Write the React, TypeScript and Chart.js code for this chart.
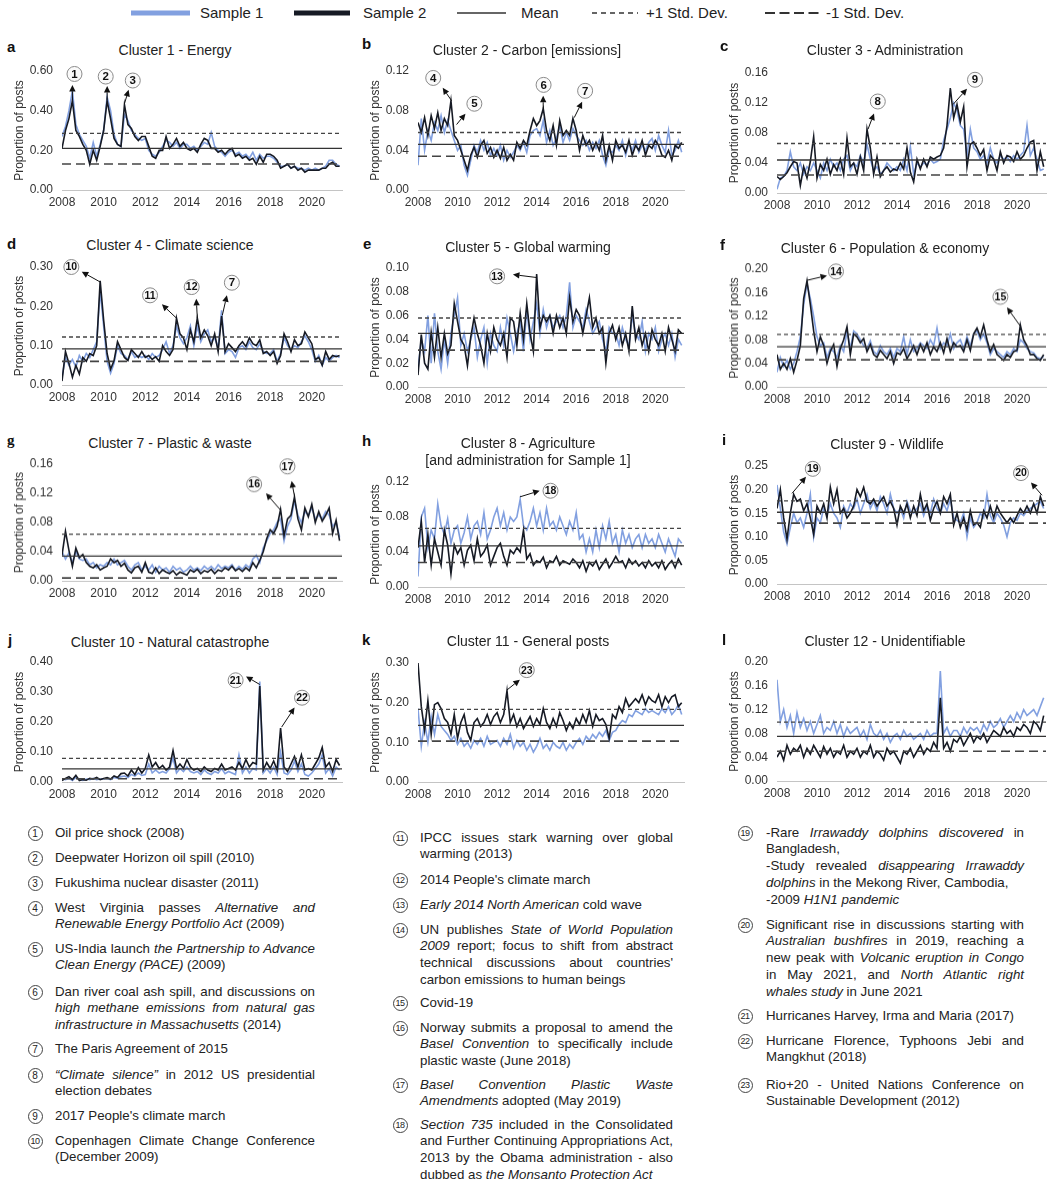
import React, { useEffect, useRef } from "react";
import { Chart, registerables } from "chart.js";

Chart.register(...registerables);

const FONT = '"Liberation Sans", Arial, Helvetica, sans-serif';
Chart.defaults.font.family = FONT;

const BLUE = "#82a0e0";
const DARK = "#161a24";

// bimonthly periods Jan 2008 .. May 2021
const PERIODS: string[] = [];
for (let yr = 2008; yr <= 2021; yr++) {
  for (let m = 1; m <= 11; m += 2) {
    if (yr === 2021 && m > 5) break;
    PERIODS.push(`${yr}-${String(m).padStart(2, "0")}`);
  }
}
const periodToYear = (p: string) => {
  const [y, m] = p.split("-").map(Number);
  return y + (m - 1) / 12;
};
const X_TICKS = [2008, 2010, 2012, 2014, 2016, 2018, 2020];
const X_MIN = 2008;
const X_MAX = 2021.45;

const LETTERS = ["a", "b", "c", "d", "e", "f", "g", "h", "i", "j", "k", "l"];
const TITLES: string[][] = [
  ["Cluster 1 - Energy"],
  ["Cluster 2 - Carbon [emissions]"],
  ["Cluster 3 - Administration"],
  ["Cluster 4 - Climate science"],
  ["Cluster 5 - Global warming"],
  ["Cluster 6 - Population & economy"],
  ["Cluster 7 - Plastic & waste"],
  ["Cluster 8 - Agriculture", "[and administration for Sample 1]"],
  ["Cluster 9 - Wildlife"],
  ["Cluster 10 - Natural catastrophe"],
  ["Cluster 11 - General posts"],
  ["Cluster 12 - Unidentifiable"],
];
const Y_MAX = [0.6, 0.12, 0.16, 0.3, 0.1, 0.2, 0.16, 0.12, 0.25, 0.4, 0.3, 0.2];
const Y_STEP = [0.2, 0.04, 0.04, 0.1, 0.02, 0.04, 0.04, 0.04, 0.05, 0.1, 0.1, 0.04];
const MEAN = [0.21, 0.046, 0.044, 0.092, 0.045, 0.068, 0.034, 0.047, 0.152, 0.044, 0.143, 0.075];
const PLUS_SD = [0.286, 0.058, 0.066, 0.122, 0.058, 0.089, 0.064, 0.067, 0.176, 0.079, 0.183, 0.099];
const MINUS_SD = [0.131, 0.034, 0.024, 0.06, 0.031, 0.046, 0.004, 0.028, 0.129, 0.011, 0.103, 0.05];

// ---- series (Sample 1 = blue, Sample 2 = black) ----
const A_S1 = [
  0.27, 0.32, 0.40, 0.50, 0.33, 0.28, 0.25, 0.22, 0.16, 0.24, 0.17, 0.23,
  0.30, 0.47, 0.40, 0.28, 0.23, 0.22, 0.38, 0.35, 0.30, 0.28, 0.26, 0.25,
  0.26, 0.20, 0.18, 0.17, 0.19, 0.22, 0.25, 0.24, 0.22, 0.24, 0.21, 0.23,
  0.23, 0.21, 0.22, 0.20, 0.22, 0.24, 0.23, 0.29, 0.22, 0.20, 0.19, 0.17,
  0.19, 0.20, 0.18, 0.19, 0.17, 0.18, 0.16, 0.19, 0.15, 0.18, 0.16, 0.17,
  0.17, 0.16, 0.14, 0.12, 0.12, 0.13, 0.11, 0.12, 0.11, 0.11, 0.10, 0.11,
  0.10, 0.11, 0.10, 0.11, 0.12, 0.15, 0.15, 0.13, 0.12,
];
const A_S2 = [
  0.21, 0.30, 0.36, 0.45, 0.30, 0.27, 0.23, 0.20, 0.13, 0.20, 0.15, 0.22,
  0.30, 0.45, 0.36, 0.26, 0.23, 0.22, 0.43, 0.33, 0.31, 0.27, 0.25, 0.27,
  0.27, 0.22, 0.17, 0.16, 0.20, 0.20, 0.27, 0.21, 0.23, 0.26, 0.22, 0.24,
  0.21, 0.20, 0.21, 0.19, 0.23, 0.26, 0.25, 0.21, 0.21, 0.19, 0.20, 0.18,
  0.20, 0.21, 0.17, 0.18, 0.16, 0.17, 0.15, 0.16, 0.13, 0.17, 0.14, 0.18,
  0.18, 0.17, 0.15, 0.11, 0.12, 0.13, 0.11, 0.12, 0.10, 0.11, 0.09, 0.10,
  0.10, 0.10, 0.10, 0.11, 0.11, 0.13, 0.14, 0.12, 0.12,
];
const B_S1 = [
  0.025, 0.072, 0.040, 0.060, 0.050, 0.068, 0.060, 0.075, 0.058, 0.070, 0.060, 0.050,
  0.040, 0.045, 0.025, 0.015, 0.030, 0.045, 0.038, 0.050, 0.040, 0.048, 0.035, 0.042,
  0.035, 0.045, 0.030, 0.040, 0.033, 0.038, 0.045, 0.040, 0.048, 0.038, 0.055, 0.060,
  0.062, 0.055, 0.070, 0.048, 0.060, 0.045, 0.052, 0.065, 0.048, 0.058, 0.050, 0.062,
  0.055, 0.050, 0.045, 0.050, 0.040, 0.048, 0.042, 0.050, 0.035, 0.025, 0.040, 0.038,
  0.045, 0.040, 0.050, 0.035, 0.048, 0.040, 0.050, 0.038, 0.045, 0.040, 0.048, 0.052,
  0.040, 0.055, 0.045, 0.038, 0.060, 0.035, 0.040, 0.050, 0.038,
];
const B_S2 = [
  0.068, 0.058, 0.073, 0.055, 0.075, 0.062, 0.078, 0.060, 0.072, 0.065, 0.090, 0.055,
  0.050, 0.040, 0.030, 0.020, 0.035, 0.043, 0.033, 0.045, 0.050, 0.037, 0.043, 0.033,
  0.040, 0.032, 0.043, 0.030, 0.036, 0.030, 0.048, 0.042, 0.050, 0.045, 0.060, 0.072,
  0.065, 0.070, 0.082, 0.060, 0.050, 0.065, 0.045, 0.070, 0.055, 0.060, 0.055, 0.072,
  0.060, 0.040, 0.055, 0.045, 0.050, 0.040, 0.048, 0.040, 0.055, 0.030, 0.045, 0.030,
  0.050, 0.042, 0.045, 0.038, 0.050, 0.035, 0.045, 0.040, 0.050, 0.035, 0.045, 0.042,
  0.050, 0.045, 0.035, 0.033, 0.040, 0.030, 0.045, 0.042, 0.048,
];
const C_S1 = [
  0.005, 0.020, 0.022, 0.030, 0.055, 0.035, 0.030, 0.040, 0.025, 0.035, 0.030, 0.040,
  0.030, 0.020, 0.040, 0.030, 0.045, 0.035, 0.040, 0.030, 0.045, 0.050, 0.030, 0.040,
  0.035, 0.050, 0.040, 0.065, 0.045, 0.030, 0.035, 0.025, 0.030, 0.040, 0.035, 0.030,
  0.035, 0.030, 0.045, 0.030, 0.062, 0.025, 0.040, 0.035, 0.040, 0.038, 0.045, 0.040,
  0.042, 0.045, 0.070, 0.085, 0.100, 0.120, 0.110, 0.090, 0.085, 0.050, 0.085, 0.060,
  0.055, 0.045, 0.050, 0.040, 0.060, 0.045, 0.040, 0.050, 0.045, 0.048, 0.042, 0.050,
  0.045, 0.050, 0.055, 0.090, 0.050, 0.060, 0.045, 0.030, 0.032,
];
const C_S2 = [
  0.022, 0.018, 0.022, 0.027, 0.035, 0.042, 0.040, 0.010, 0.035, 0.020, 0.042, 0.075,
  0.020, 0.038, 0.030, 0.045, 0.025, 0.038, 0.030, 0.045, 0.025, 0.073, 0.035, 0.040,
  0.025, 0.048, 0.030, 0.085, 0.060, 0.025, 0.048, 0.022, 0.030, 0.035, 0.028, 0.032,
  0.030, 0.040, 0.032, 0.060, 0.028, 0.015, 0.045, 0.032, 0.045, 0.035, 0.048, 0.045,
  0.048, 0.050, 0.060, 0.090, 0.140, 0.100, 0.118, 0.095, 0.115, 0.035, 0.065, 0.068,
  0.060, 0.050, 0.058, 0.030, 0.050, 0.045, 0.030, 0.055, 0.040, 0.050, 0.048, 0.042,
  0.055, 0.045, 0.050, 0.060, 0.068, 0.070, 0.030, 0.055, 0.035,
];
const D_S1 = [
  0.020, 0.070, 0.050, 0.065, 0.045, 0.075, 0.060, 0.080, 0.070, 0.090, 0.110, 0.240,
  0.150, 0.060, 0.030, 0.055, 0.100, 0.080, 0.075, 0.065, 0.085, 0.070, 0.075, 0.070,
  0.075, 0.065, 0.080, 0.070, 0.075, 0.090, 0.110, 0.080, 0.100, 0.150, 0.120, 0.105,
  0.120, 0.150, 0.100, 0.150, 0.110, 0.130, 0.140, 0.110, 0.120, 0.095, 0.190, 0.080,
  0.090, 0.085, 0.070, 0.095, 0.100, 0.090, 0.110, 0.095, 0.090, 0.105, 0.085, 0.080,
  0.080, 0.090, 0.060, 0.080, 0.120, 0.100, 0.090, 0.100, 0.095, 0.110, 0.125, 0.110,
  0.090, 0.060, 0.075, 0.050, 0.070, 0.060, 0.070, 0.075, 0.070,
];
const D_S2 = [
  0.010, 0.085, 0.055, 0.020, 0.050, 0.028, 0.070, 0.060, 0.080, 0.075, 0.100, 0.265,
  0.165, 0.080, 0.040, 0.062, 0.110, 0.090, 0.070, 0.062, 0.090, 0.080, 0.070, 0.085,
  0.070, 0.075, 0.065, 0.072, 0.060, 0.100, 0.085, 0.075, 0.090, 0.170, 0.130, 0.120,
  0.090, 0.140, 0.110, 0.170, 0.120, 0.140, 0.125, 0.100, 0.130, 0.085, 0.175, 0.085,
  0.105, 0.095, 0.085, 0.100, 0.110, 0.098, 0.120, 0.105, 0.100, 0.115, 0.080, 0.085,
  0.075, 0.085, 0.055, 0.075, 0.130, 0.110, 0.085, 0.115, 0.100, 0.105, 0.135, 0.120,
  0.105, 0.065, 0.070, 0.050, 0.085, 0.065, 0.075, 0.072, 0.075,
];
const E_S1 = [
  0.015, 0.040, 0.030, 0.060, 0.020, 0.062, 0.030, 0.015, 0.040, 0.020, 0.045, 0.060,
  0.075, 0.035, 0.045, 0.030, 0.040, 0.050, 0.025, 0.040, 0.050, 0.020, 0.045, 0.035,
  0.030, 0.050, 0.035, 0.058, 0.045, 0.030, 0.045, 0.055, 0.030, 0.065, 0.040, 0.055,
  0.070, 0.045, 0.065, 0.050, 0.060, 0.050, 0.055, 0.060, 0.050, 0.060, 0.088, 0.050,
  0.060, 0.055, 0.050, 0.065, 0.055, 0.045, 0.050, 0.055, 0.040, 0.030, 0.050, 0.045,
  0.045, 0.035, 0.050, 0.040, 0.035, 0.060, 0.045, 0.040, 0.055, 0.030, 0.045, 0.040,
  0.050, 0.030, 0.040, 0.045, 0.035, 0.045, 0.025, 0.040, 0.035,
];
const E_S2 = [
  0.010, 0.044, 0.020, 0.015, 0.046, 0.025, 0.050, 0.025, 0.045, 0.028, 0.035, 0.070,
  0.055, 0.040, 0.035, 0.018, 0.042, 0.058, 0.045, 0.035, 0.020, 0.045, 0.030, 0.050,
  0.040, 0.035, 0.045, 0.025, 0.058, 0.055, 0.035, 0.062, 0.040, 0.070, 0.045, 0.030,
  0.095, 0.050, 0.060, 0.055, 0.060, 0.045, 0.060, 0.050, 0.058, 0.045, 0.075, 0.055,
  0.065, 0.060, 0.045, 0.060, 0.075, 0.050, 0.058, 0.045, 0.050, 0.020, 0.045, 0.052,
  0.040, 0.050, 0.035, 0.045, 0.030, 0.068, 0.040, 0.050, 0.035, 0.045, 0.030, 0.048,
  0.040, 0.035, 0.045, 0.030, 0.050, 0.040, 0.030, 0.048, 0.045,
];
const F_S1 = [
  0.025, 0.050, 0.035, 0.045, 0.030, 0.040, 0.060, 0.085, 0.140, 0.175, 0.150, 0.120,
  0.085, 0.070, 0.075, 0.050, 0.065, 0.060, 0.050, 0.070, 0.060, 0.095, 0.065, 0.095,
  0.090, 0.080, 0.070, 0.065, 0.078, 0.060, 0.055, 0.070, 0.060, 0.055, 0.065, 0.050,
  0.065, 0.060, 0.085, 0.055, 0.080, 0.060, 0.065, 0.075, 0.070, 0.065, 0.080, 0.070,
  0.100, 0.065, 0.075, 0.070, 0.090, 0.065, 0.075, 0.080, 0.065, 0.085, 0.070, 0.090,
  0.095, 0.080, 0.090, 0.075, 0.055, 0.065, 0.060, 0.055, 0.050, 0.060, 0.055, 0.065,
  0.060, 0.080, 0.075, 0.065, 0.060, 0.058, 0.050, 0.048, 0.052,
];
const F_S2 = [
  0.055, 0.030, 0.040, 0.030, 0.048, 0.025, 0.045, 0.070, 0.150, 0.180, 0.140, 0.095,
  0.060, 0.085, 0.070, 0.040, 0.060, 0.072, 0.035, 0.065, 0.080, 0.102, 0.055, 0.090,
  0.085, 0.075, 0.082, 0.060, 0.072, 0.055, 0.050, 0.062, 0.055, 0.048, 0.060, 0.040,
  0.058, 0.055, 0.065, 0.048, 0.058, 0.070, 0.055, 0.072, 0.060, 0.075, 0.055, 0.068,
  0.060, 0.075, 0.058, 0.082, 0.060, 0.075, 0.068, 0.070, 0.060, 0.080, 0.062, 0.090,
  0.100, 0.085, 0.105, 0.080, 0.060, 0.072, 0.055, 0.050, 0.045, 0.055, 0.050, 0.060,
  0.062, 0.105, 0.080, 0.070, 0.055, 0.055, 0.048, 0.045, 0.055,
];
const G_S1 = [
  0.040, 0.030, 0.038, 0.025, 0.040, 0.030, 0.028, 0.030, 0.022, 0.025, 0.018, 0.022,
  0.020, 0.025, 0.022, 0.030, 0.022, 0.025, 0.028, 0.020, 0.015, 0.022, 0.025, 0.015,
  0.020, 0.015, 0.022, 0.012, 0.020, 0.015, 0.018, 0.012, 0.020, 0.015, 0.018, 0.012,
  0.015, 0.020, 0.015, 0.018, 0.014, 0.020, 0.016, 0.020, 0.015, 0.022, 0.017, 0.020,
  0.018, 0.022, 0.015, 0.020, 0.016, 0.022, 0.018, 0.030, 0.035, 0.025, 0.045, 0.055,
  0.065, 0.070, 0.080, 0.085, 0.055, 0.075, 0.085, 0.110, 0.090, 0.080, 0.095, 0.090,
  0.100, 0.085, 0.090, 0.085, 0.095, 0.090, 0.075, 0.080, 0.060,
];
const G_S2 = [
  0.035, 0.068, 0.042, 0.020, 0.045, 0.032, 0.036, 0.025, 0.020, 0.018, 0.022, 0.015,
  0.018, 0.020, 0.030, 0.025, 0.028, 0.020, 0.024, 0.015, 0.011, 0.018, 0.020, 0.012,
  0.025, 0.012, 0.010, 0.018, 0.010, 0.015, 0.012, 0.010, 0.014, 0.008, 0.012, 0.010,
  0.008, 0.015, 0.012, 0.016, 0.010, 0.014, 0.012, 0.016, 0.010, 0.015, 0.013, 0.018,
  0.015, 0.020, 0.014, 0.017, 0.013, 0.018, 0.014, 0.025, 0.018, 0.028, 0.040, 0.058,
  0.070, 0.065, 0.075, 0.098, 0.062, 0.085, 0.090, 0.115, 0.085, 0.070, 0.100, 0.088,
  0.105, 0.080, 0.095, 0.082, 0.090, 0.100, 0.065, 0.083, 0.055,
];
const H_S1 = [
  0.012, 0.080, 0.090, 0.045, 0.065, 0.055, 0.095, 0.070, 0.060, 0.078, 0.050, 0.065,
  0.070, 0.050, 0.062, 0.080, 0.055, 0.070, 0.075, 0.060, 0.085, 0.055, 0.065, 0.080,
  0.090, 0.070, 0.085, 0.065, 0.080, 0.075, 0.080, 0.100, 0.070, 0.065, 0.075, 0.090,
  0.070, 0.085, 0.065, 0.090, 0.070, 0.075, 0.065, 0.080, 0.070, 0.060, 0.075, 0.065,
  0.085, 0.055, 0.060, 0.040, 0.055, 0.040, 0.065, 0.045, 0.070, 0.055, 0.075, 0.050,
  0.060, 0.040, 0.065, 0.050, 0.060, 0.045, 0.055, 0.060, 0.045, 0.060, 0.050, 0.055,
  0.045, 0.060, 0.050, 0.040, 0.055, 0.045, 0.035, 0.055, 0.050,
];
const H_S2 = [
  0.045, 0.075, 0.028, 0.060, 0.025, 0.055, 0.040, 0.025, 0.065, 0.048, 0.015, 0.048,
  0.038, 0.045, 0.025, 0.042, 0.048, 0.030, 0.055, 0.035, 0.040, 0.048, 0.025, 0.035,
  0.045, 0.050, 0.035, 0.025, 0.042, 0.038, 0.045, 0.040, 0.065, 0.032, 0.038, 0.025,
  0.030, 0.028, 0.034, 0.022, 0.030, 0.028, 0.035, 0.025, 0.030, 0.028, 0.026, 0.032,
  0.028, 0.022, 0.030, 0.018, 0.028, 0.024, 0.030, 0.020, 0.026, 0.032, 0.022, 0.028,
  0.035, 0.028, 0.030, 0.022, 0.032, 0.026, 0.030, 0.024, 0.028, 0.022, 0.030, 0.024,
  0.028, 0.022, 0.030, 0.020, 0.026, 0.030, 0.022, 0.032, 0.025,
];
const I_S1 = [
  0.210, 0.160, 0.110, 0.085, 0.120, 0.150, 0.130, 0.140, 0.120, 0.150, 0.190, 0.100,
  0.140, 0.130, 0.160, 0.145, 0.170, 0.150, 0.140, 0.120, 0.165, 0.150, 0.170, 0.160,
  0.180, 0.150, 0.170, 0.190, 0.160, 0.175, 0.155, 0.185, 0.170, 0.150, 0.190, 0.160,
  0.150, 0.160, 0.140, 0.175, 0.155, 0.150, 0.160, 0.170, 0.145, 0.165, 0.150, 0.180,
  0.160, 0.150, 0.170, 0.155, 0.180, 0.140, 0.135, 0.130, 0.150, 0.100, 0.140, 0.120,
  0.130, 0.150, 0.140, 0.190, 0.145, 0.130, 0.150, 0.140, 0.125, 0.100, 0.130, 0.140,
  0.135, 0.150, 0.145, 0.155, 0.160, 0.165, 0.170, 0.175, 0.160,
];
const I_S2 = [
  0.160, 0.200, 0.140, 0.095, 0.150, 0.190, 0.175, 0.180, 0.155, 0.170, 0.140, 0.105,
  0.165, 0.150, 0.170, 0.140, 0.205, 0.170, 0.200, 0.150, 0.160, 0.140, 0.150, 0.165,
  0.200, 0.185, 0.205, 0.175, 0.170, 0.180, 0.165, 0.175, 0.185, 0.165, 0.175, 0.160,
  0.125, 0.165, 0.150, 0.170, 0.140, 0.165, 0.145, 0.190, 0.155, 0.170, 0.135, 0.160,
  0.175, 0.150, 0.185, 0.170, 0.190, 0.125, 0.150, 0.120, 0.140, 0.115, 0.155, 0.125,
  0.130, 0.120, 0.155, 0.140, 0.165, 0.140, 0.165, 0.150, 0.140, 0.130, 0.140, 0.130,
  0.145, 0.160, 0.150, 0.165, 0.150, 0.170, 0.150, 0.185, 0.165,
];
const J_S1 = [
  0.010, 0.008, 0.012, 0.005, 0.015, 0.008, 0.005, 0.010, 0.008, 0.012, 0.008, 0.010,
  0.010, 0.012, 0.008, 0.015, 0.012, 0.018, 0.020, 0.015, 0.025, 0.020, 0.030, 0.022,
  0.025, 0.060, 0.030, 0.040, 0.030, 0.035, 0.030, 0.045, 0.080, 0.030, 0.045, 0.035,
  0.050, 0.035, 0.030, 0.035, 0.025, 0.040, 0.030, 0.025, 0.035, 0.030, 0.045, 0.028,
  0.035, 0.030, 0.025, 0.090, 0.030, 0.050, 0.030, 0.045, 0.040, 0.335, 0.030, 0.045,
  0.030, 0.050, 0.025, 0.100, 0.030, 0.025, 0.040, 0.070, 0.035, 0.060, 0.025, 0.020,
  0.030, 0.045, 0.060, 0.090, 0.030, 0.045, 0.020, 0.050, 0.040,
];
const J_S2 = [
  0.005, 0.012, 0.018, 0.008, 0.022, 0.005, 0.008, 0.006, 0.012, 0.010, 0.015, 0.008,
  0.012, 0.015, 0.010, 0.020, 0.015, 0.028, 0.030, 0.020, 0.040, 0.025, 0.048, 0.030,
  0.045, 0.090, 0.050, 0.065, 0.045, 0.055, 0.040, 0.050, 0.105, 0.045, 0.060, 0.045,
  0.075, 0.050, 0.040, 0.045, 0.035, 0.050, 0.040, 0.035, 0.045, 0.040, 0.060, 0.040,
  0.045, 0.050, 0.040, 0.065, 0.045, 0.075, 0.050, 0.065, 0.060, 0.320, 0.040, 0.065,
  0.045, 0.070, 0.040, 0.180, 0.050, 0.035, 0.060, 0.085, 0.050, 0.090, 0.040, 0.045,
  0.040, 0.060, 0.080, 0.115, 0.050, 0.065, 0.035, 0.075, 0.055,
];
const K_S1 = [
  0.185, 0.090, 0.150, 0.100, 0.165, 0.120, 0.170, 0.140, 0.130, 0.120, 0.105, 0.115,
  0.095, 0.110, 0.090, 0.100, 0.085, 0.105, 0.095, 0.110, 0.090, 0.115, 0.095, 0.100,
  0.105, 0.090, 0.110, 0.095, 0.120, 0.085, 0.105, 0.090, 0.100, 0.080, 0.095, 0.075,
  0.090, 0.110, 0.085, 0.095, 0.080, 0.100, 0.090, 0.085, 0.100, 0.080, 0.095, 0.085,
  0.100, 0.110, 0.095, 0.115, 0.105, 0.120, 0.110, 0.125, 0.115, 0.130, 0.105, 0.125,
  0.130, 0.145, 0.155, 0.150, 0.170, 0.165, 0.180, 0.175, 0.170, 0.185, 0.175, 0.180,
  0.175, 0.170, 0.185, 0.175, 0.190, 0.170, 0.180, 0.195, 0.170,
];
const K_S2 = [
  0.300, 0.190, 0.130, 0.205, 0.120, 0.195, 0.200, 0.185, 0.160, 0.150, 0.120, 0.170,
  0.110, 0.150, 0.170, 0.125, 0.105, 0.150, 0.160, 0.140, 0.150, 0.170, 0.145, 0.165,
  0.175, 0.150, 0.170, 0.230, 0.150, 0.170, 0.140, 0.160, 0.135, 0.150, 0.165, 0.140,
  0.160, 0.145, 0.185, 0.150, 0.135, 0.160, 0.140, 0.175, 0.155, 0.130, 0.150, 0.135,
  0.160, 0.145, 0.170, 0.150, 0.180, 0.140, 0.170, 0.155, 0.160, 0.145, 0.110, 0.170,
  0.160, 0.190, 0.175, 0.210, 0.190, 0.200, 0.210, 0.200, 0.220, 0.195, 0.215, 0.205,
  0.200, 0.220, 0.190, 0.215, 0.200, 0.215, 0.220, 0.190, 0.200,
];
const L_S1 = [
  0.170, 0.100, 0.120, 0.090, 0.110, 0.080, 0.115, 0.090, 0.105, 0.085, 0.100, 0.080,
  0.095, 0.110, 0.080, 0.090, 0.085, 0.100, 0.080, 0.095, 0.075, 0.090, 0.080, 0.085,
  0.090, 0.075, 0.085, 0.070, 0.095, 0.080, 0.075, 0.085, 0.070, 0.080, 0.065, 0.075,
  0.080, 0.070, 0.085, 0.075, 0.080, 0.070, 0.075, 0.080, 0.070, 0.085, 0.075, 0.080,
  0.080, 0.185, 0.080, 0.090, 0.075, 0.085, 0.085, 0.075, 0.090, 0.080, 0.090, 0.085,
  0.090, 0.080, 0.095, 0.085, 0.100, 0.090, 0.095, 0.105, 0.090, 0.100, 0.110, 0.100,
  0.115, 0.105, 0.120, 0.110, 0.115, 0.120, 0.110, 0.125, 0.140,
];
const L_S2 = [
  0.040, 0.050, 0.035, 0.060, 0.045, 0.055, 0.050, 0.060, 0.040, 0.055, 0.045, 0.060,
  0.050, 0.040, 0.058, 0.045, 0.055, 0.040, 0.050, 0.045, 0.060, 0.040, 0.050, 0.045,
  0.055, 0.040, 0.050, 0.045, 0.060, 0.040, 0.050, 0.045, 0.035, 0.055, 0.045, 0.050,
  0.040, 0.030, 0.050, 0.045, 0.055, 0.040, 0.050, 0.060, 0.045, 0.055, 0.050, 0.065,
  0.055, 0.140, 0.055, 0.065, 0.050, 0.070, 0.065, 0.075, 0.060, 0.070, 0.080, 0.065,
  0.075, 0.070, 0.080, 0.065, 0.075, 0.085, 0.080, 0.075, 0.090, 0.080, 0.085, 0.075,
  0.090, 0.085, 0.095, 0.090, 0.080, 0.100, 0.095, 0.085, 0.110,
];
const SAMPLE1 = [A_S1, B_S1, C_S1, D_S1, E_S1, F_S1, G_S1, H_S1, I_S1, J_S1, K_S1, L_S1];
const SAMPLE2 = [A_S2, B_S2, C_S2, D_S2, E_S2, F_S2, G_S2, H_S2, I_S2, J_S2, K_S2, L_S2];

// annotations: circle centre (cx,cy) and arrow from (sx,sy) to (ex,ey), data units
type Note = { n: number; cx: number; cy: number; sx: number; sy: number; ex: number; ey: number };
const NOTES: Note[][] = [
  [
    { n: 1, cx: 2008.6, cy: 0.585, sx: 2008.5, sy: 0.455, ex: 2008.5, ey: 0.53 },
    { n: 2, cx: 2010.1, cy: 0.572, sx: 2010.17, sy: 0.455, ex: 2010.17, ey: 0.525 },
    { n: 3, cx: 2011.4, cy: 0.552, sx: 2011.0, sy: 0.435, ex: 2011.2, ey: 0.505 },
  ],
  [
    { n: 4, cx: 2008.77, cy: 0.113, sx: 2009.7, sy: 0.09, ex: 2009.25, ey: 0.103 },
    { n: 5, cx: 2010.85, cy: 0.087, sx: 2009.95, sy: 0.066, ex: 2010.4, ey: 0.077 },
    { n: 6, cx: 2014.35, cy: 0.106, sx: 2014.33, sy: 0.082, ex: 2014.33, ey: 0.095 },
    { n: 7, cx: 2016.45, cy: 0.1, sx: 2015.9, sy: 0.073, ex: 2016.3, ey: 0.089 },
  ],
  [
    { n: 8, cx: 2013.04, cy: 0.122, sx: 2012.55, sy: 0.085, ex: 2012.85, ey: 0.106 },
    { n: 9, cx: 2017.9, cy: 0.151, sx: 2016.8, sy: 0.118, ex: 2017.5, ey: 0.139 },
  ],
  [
    { n: 10, cx: 2008.45, cy: 0.3, sx: 2009.83, sy: 0.262, ex: 2008.95, ey: 0.288 },
    { n: 11, cx: 2012.23, cy: 0.228, sx: 2013.5, sy: 0.17, ex: 2012.8, ey: 0.205 },
    { n: 12, cx: 2014.23, cy: 0.249, sx: 2014.5, sy: 0.17, ex: 2014.45, ey: 0.219 },
    { n: 7, cx: 2016.16, cy: 0.26, sx: 2015.7, sy: 0.177, ex: 2015.92, ey: 0.228 },
  ],
  [{ n: 13, cx: 2012.0, cy: 0.093, sx: 2014.0, sy: 0.092, ex: 2012.8, ey: 0.0945 }],
  [
    { n: 14, cx: 2010.95, cy: 0.196, sx: 2009.5, sy: 0.181, ex: 2010.5, ey: 0.189 },
    { n: 15, cx: 2019.17, cy: 0.153, sx: 2020.15, sy: 0.104, ex: 2019.5, ey: 0.135 },
  ],
  [
    { n: 16, cx: 2017.23, cy: 0.1325, sx: 2018.5, sy: 0.097, ex: 2017.8, ey: 0.12 },
    { n: 17, cx: 2018.83, cy: 0.157, sx: 2019.17, sy: 0.1155, ex: 2019.03, ey: 0.137 },
  ],
  [{ n: 18, cx: 2014.7, cy: 0.11, sx: 2013.15, sy: 0.103, ex: 2014.15, ey: 0.11 }],
  [
    { n: 19, cx: 2009.79, cy: 0.244, sx: 2008.75, sy: 0.192, ex: 2009.45, ey: 0.227 },
    { n: 20, cx: 2020.2, cy: 0.235, sx: 2021.25, sy: 0.188, ex: 2020.7, ey: 0.215 },
  ],
  [
    { n: 21, cx: 2016.34, cy: 0.339, sx: 2017.5, sy: 0.325, ex: 2016.84, ey: 0.352 },
    { n: 22, cx: 2019.53, cy: 0.281, sx: 2018.55, sy: 0.183, ex: 2019.17, ey: 0.248 },
  ],
  [{ n: 23, cx: 2013.5, cy: 0.282, sx: 2012.5, sy: 0.232, ex: 2013.15, ey: 0.258 }],
  [],
];

// footnotes (*...* = italic, | = line break)
const FOOTNOTES: { n: number; col: number; y: number; text: string }[] = [
  { n: 1, col: 0, y: 833, text: "Oil price shock (2008)" },
  { n: 2, col: 0, y: 858, text: "Deepwater Horizon oil spill (2010)" },
  { n: 3, col: 0, y: 883, text: "Fukushima nuclear disaster (2011)" },
  { n: 4, col: 0, y: 908, text: "West Virginia passes *Alternative and Renewable Energy Portfolio Act* (2009)" },
  { n: 5, col: 0, y: 949, text: "US-India launch *the Partnership to Advance Clean Energy (PACE)* (2009)" },
  { n: 6, col: 0, y: 992, text: "Dan river coal ash spill, and discussions on *high methane emissions from natural gas infrastructure in Massachusetts* (2014)" },
  { n: 7, col: 0, y: 1049, text: "The Paris Agreement of 2015" },
  { n: 8, col: 0, y: 1075, text: "*\u201cClimate silence\u201d* in 2012 US presidential election debates" },
  { n: 9, col: 0, y: 1116, text: "2017 People's climate march" },
  { n: 10, col: 0, y: 1141, text: "Copenhagen Climate Change Conference (December 2009)" },
  { n: 11, col: 1, y: 838, text: "IPCC issues stark warning over global warming (2013)" },
  { n: 12, col: 1, y: 880, text: "2014 People's climate march" },
  { n: 13, col: 1, y: 905, text: "*Early 2014 North American* cold wave" },
  { n: 14, col: 1, y: 930, text: "UN publishes *State of World Population 2009* report; focus to shift from abstract technical discussions about countries' carbon emissions to human beings" },
  { n: 15, col: 1, y: 1003, text: "Covid-19" },
  { n: 16, col: 1, y: 1028, text: "Norway submits a proposal to amend the *Basel Convention* to specifically include plastic waste (June 2018)" },
  { n: 17, col: 1, y: 1085, text: "*Basel Convention Plastic Waste Amendments* adopted (May 2019)" },
  { n: 18, col: 1, y: 1125, text: "*Section 735* included in the Consolidated and Further Continuing Appropriations Act, 2013 by the Obama administration - also dubbed as *the Monsanto Protection Act*" },
  { n: 19, col: 2, y: 833, text: "-Rare *Irrawaddy dolphins discovered* in Bangladesh,|-Study revealed *disappearing Irrawaddy dolphins* in the Mekong River, Cambodia,|-2009 *H1N1 pandemic*" },
  { n: 20, col: 2, y: 925, text: "Significant rise in discussions starting with *Australian bushfires* in 2019, reaching a new peak with *Volcanic eruption in Congo* in May 2021, and *North Atlantic right whales study* in June 2021" },
  { n: 21, col: 2, y: 1016, text: "Hurricanes Harvey, Irma and Maria (2017)" },
  { n: 22, col: 2, y: 1041, text: "Hurricane Florence, Typhoons Jebi and Mangkhut (2018)" },
  { n: 23, col: 2, y: 1085, text: "Rio+20 - United Nations Conference on Sustainable Development (2012)" },
];

// ---- layout (pixels) ----
const COL_AXIS = [62, 418, 777];
const COL_RIGHT = [342, 684, 1046];
const PLOT_TOP = [71, 71, 72.7, 266.7, 267.7, 269.3, 464.3, 481.7, 465.7, 661.7, 662.7, 661.5];
const PLOT_BOTTOM = [190, 190, 192.7, 385, 387, 386.7, 580.7, 587, 584.3, 781.7, 782, 780.5];
const TITLE_POS = [
  [175, 50], [527, 50], [885, 50],
  [170, 245], [528, 247], [885, 248],
  [170, 443], [528, 443], [887, 444],
  [170, 642], [528, 641], [885, 641],
];
const LETTER_POS = [
  [7, 47], [362, 44], [720, 46],
  [7, 244], [363, 244], [720, 245],
  [7, 440], [362, 441], [722, 440],
  [8, 640], [362, 640], [722, 640],
];
const NOTE_COL_CIRCLE = [35, 400, 745];
const NOTE_COL_TEXT = [55, 420, 766];
const NOTE_COL_WIDTH = [260, 253, 258];

const toPts = (arr: number[]) => PERIODS.map((p, i) => ({ x: periodToYear(p), y: arr[i] }));
const hline = (v: number) => [
  { x: X_MIN, y: v },
  { x: X_MAX, y: v },
];

function makeNotesPlugin(notes: Note[]) {
  return {
    id: "notes",
    afterDatasetsDraw(chart: any) {
      const { ctx, scales } = chart;
      const xs = scales.x;
      const ys = scales.y;
      ctx.save();
      for (const a of notes) {
        const sx = xs.getPixelForValue(a.sx);
        const sy = ys.getPixelForValue(a.sy);
        const ex = xs.getPixelForValue(a.ex);
        const ey = ys.getPixelForValue(a.ey);
        const ang = Math.atan2(ey - sy, ex - sx);
        const hl = 6.5;
        const hw = 3.2;
        const bx = ex - hl * Math.cos(ang);
        const by = ey - hl * Math.sin(ang);
        ctx.strokeStyle = "#111";
        ctx.fillStyle = "#111";
        ctx.lineWidth = 1;
        ctx.beginPath();
        ctx.moveTo(sx, sy);
        ctx.lineTo(bx, by);
        ctx.stroke();
        ctx.beginPath();
        ctx.moveTo(ex, ey);
        ctx.lineTo(bx + hw * Math.sin(ang), by - hw * Math.cos(ang));
        ctx.lineTo(bx - hw * Math.sin(ang), by + hw * Math.cos(ang));
        ctx.closePath();
        ctx.fill();
        const cx = xs.getPixelForValue(a.cx);
        const cy = ys.getPixelForValue(a.cy);
        ctx.beginPath();
        ctx.arc(cx, cy, 7.5, 0, Math.PI * 2);
        ctx.fillStyle = "#fafafa";
        ctx.fill();
        ctx.strokeStyle = "#8a8a8a";
        ctx.lineWidth = 1;
        ctx.stroke();
        ctx.fillStyle = "#111";
        ctx.font = `bold ${a.n >= 10 ? 10.5 : 11.5}px ${FONT}`;
        ctx.textAlign = "center";
        ctx.textBaseline = "middle";
        ctx.fillText(String(a.n), cx, cy + 0.5);
      }
      ctx.restore();
    },
  };
}

function Panel({ i }: { i: number }) {
  const ref = useRef<HTMLCanvasElement>(null);
  const col = i % 3;
  const axisX = COL_AXIS[col];
  const left = axisX - 50;
  const width = COL_RIGHT[col] - axisX + 54;
  const top = PLOT_TOP[i] - 20;
  const height = PLOT_BOTTOM[i] - PLOT_TOP[i] + 45;

  useEffect(() => {
    const chart = new Chart(ref.current as HTMLCanvasElement, {
      type: "line",
      data: {
        datasets: [
          { label: "Sample 1", data: toPts(SAMPLE1[i]), borderColor: BLUE, borderWidth: 1.6, pointRadius: 0, tension: 0, order: 5 },
          { label: "Sample 2", data: toPts(SAMPLE2[i]), borderColor: DARK, borderWidth: 1.6, pointRadius: 0, tension: 0, order: 4 },
          { label: "Mean", data: hline(MEAN[i]), borderColor: "#333", borderWidth: 1.3, pointRadius: 0, order: 3 },
          { label: "+1 Std. Dev.", data: hline(PLUS_SD[i]), borderColor: "#444", borderWidth: 1.3, borderDash: [4, 3], pointRadius: 0, order: 2 },
          { label: "-1 Std. Dev.", data: hline(MINUS_SD[i]), borderColor: "#444", borderWidth: 1.6, borderDash: [9, 5], pointRadius: 0, order: 1 },
        ],
      },
      options: {
        animation: false,
        responsive: false,
        maintainAspectRatio: false,
        layout: { padding: { top: 20, right: 4, left: 0, bottom: 0 } },
        plugins: { legend: { display: false }, tooltip: { enabled: false } },
        scales: {
          x: {
            type: "linear",
            min: X_MIN,
            max: X_MAX,
            afterFit: (s: any) => {
              s.height = 25;
            },
            ticks: {
              stepSize: 2,
              includeBounds: false,
              autoSkip: false,
              maxRotation: 0,
              padding: 5,
              color: "#333",
              font: { size: 12, family: FONT },
              callback: (v: any) => (X_TICKS.includes(Number(v)) ? String(v) : ""),
            },
            grid: { display: false, drawTicks: false },
            border: { display: true, color: "#c4c4c4", width: 1 },
          },
          y: {
            min: 0,
            max: Y_MAX[i],
            afterFit: (s: any) => {
              s.width = 50;
            },
            ticks: {
              stepSize: Y_STEP[i],
              padding: 9,
              color: "#333",
              font: { size: 12, family: FONT },
              callback: (v: any) => Number(v).toFixed(2),
            },
            grid: { display: false, drawTicks: false },
            border: { display: false },
            title: {
              display: true,
              text: "Proportion of posts",
              color: "#333",
              font: { size: 12, family: FONT },
              padding: { top: 0, bottom: 0 },
            },
          },
        },
      } as any,
      plugins: [makeNotesPlugin(NOTES[i])],
    });
    return () => chart.destroy();
  }, [i]);

  const [tx, ty] = TITLE_POS[i];
  const [lx, ly] = LETTER_POS[i];
  const lines = TITLES[i];
  return (
    <>
      <div
        style={{
          position: "absolute",
          left: lx,
          top: ly - 9,
          lineHeight: "18px",
          fontSize: 15,
          fontWeight: "bold",
          fontFamily: LETTERS[i] === "g" ? '"Liberation Serif", serif' : FONT,
          color: "#111",
        }}
      >
        {LETTERS[i]}
      </div>
      <div
        style={{
          position: "absolute",
          left: tx - 200,
          width: 400,
          top: ty - 8.5,
          textAlign: "center",
          fontSize: 14,
          lineHeight: "17px",
          fontFamily: FONT,
          color: "#222",
        }}
      >
        {lines.map((l, k) => (
          <div key={k}>{l}</div>
        ))}
      </div>
      <canvas
        ref={ref}
        width={width}
        height={height}
        style={{ position: "absolute", left, top, width, height }}
      />
    </>
  );
}

function RichText({ text }: { text: string }) {
  const blocks = text.split("|");
  return (
    <>
      {blocks.map((b, bi) => (
        <React.Fragment key={bi}>
          {bi > 0 && <br />}
          {b.split("*").map((seg, si) => (si % 2 === 1 ? <i key={si}>{seg}</i> : <span key={si}>{seg}</span>))}
        </React.Fragment>
      ))}
    </>
  );
}

function Legend() {
  const Y = 13;
  return (
    <div style={{ position: "absolute", left: 0, top: 0, width: 1051, height: 26 }}>
      <svg width={1051} height={26} style={{ position: "absolute", left: 0, top: 0 }}>
        <line x1={131} x2={190} y1={Y} y2={Y} stroke={BLUE} strokeWidth={5} />
        <line x1={294} x2={350} y1={Y} y2={Y} stroke={DARK} strokeWidth={5} />
        <line x1={457} x2={506} y1={Y} y2={Y} stroke="#333" strokeWidth={1.6} />
        <line x1={592} x2={638} y1={Y} y2={Y} stroke="#333" strokeWidth={1.6} strokeDasharray="5 4" />
        <line x1={765} x2={819} y1={Y} y2={Y} stroke="#333" strokeWidth={1.8} strokeDasharray="10 4.5" />
      </svg>
      {[
        [200, "Sample 1"],
        [363, "Sample 2"],
        [521, "Mean"],
        [646, "+1 Std. Dev."],
        [826, "-1 Std. Dev."],
      ].map(([x, t]) => (
        <div
          key={t as string}
          style={{
            position: "absolute",
            left: x as number,
            top: Y - 9,
            lineHeight: "18px",
            fontSize: 15,
            fontFamily: FONT,
            color: "#222",
            whiteSpace: "nowrap",
          }}
        >
          {t}
        </div>
      ))}
    </div>
  );
}

function Footnotes() {
  return (
    <>
      {FOOTNOTES.map((f) => (
        <React.Fragment key={f.n}>
          <div
            style={{
              position: "absolute",
              left: NOTE_COL_CIRCLE[f.col] - 7.5,
              top: f.y - 7.5,
              width: 13,
              height: 13,
              border: "1px solid #444",
              borderRadius: "50%",
              fontSize: f.n >= 10 ? 9 : 10,
              lineHeight: "13px",
              textAlign: "center",
              fontFamily: FONT,
              color: "#222",
              letterSpacing: f.n >= 10 ? -0.5 : 0,
            }}
          >
            {f.n}
          </div>
          <div
            style={{
              position: "absolute",
              left: NOTE_COL_TEXT[f.col],
              top: f.y - 8.5,
              width: NOTE_COL_WIDTH[f.col],
              fontSize: 13.3,
              lineHeight: "16.8px",
              fontFamily: FONT,
              color: "#222",
              textAlign: "justify",
            }}
          >
            <RichText text={f.text} />
          </div>
        </React.Fragment>
      ))}
    </>
  );
}

export default function App() {
  return (
    <div
      style={{
        position: "absolute",
        left: 0,
        top: 0,
        width: 1051,
        height: 1180,
        background: "#fff",
        overflow: "hidden",
        fontFamily: FONT,
      }}
    >
      <Legend />
      {LETTERS.map((_, i) => (
        <Panel key={i} i={i} />
      ))}
      <Footnotes />
    </div>
  );
}
